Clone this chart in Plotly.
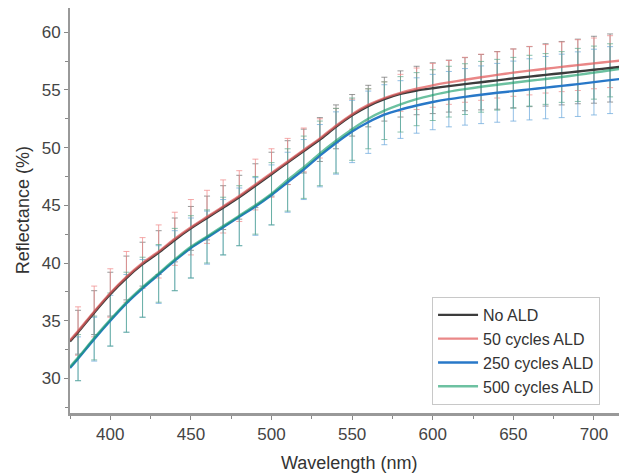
import plotly.graph_objects as go

# Wavelengths (nm): lines start at the axis edge (375), error bars every 10 nm from 380
wavelength = [375] + list(range(380, 721, 10))

no_ald = [33.2, 34.0, 35.7, 37.3, 38.7, 39.9, 40.9, 42.0, 43.0, 43.9, 44.8, 45.7, 46.7, 47.7,
          48.7, 49.7, 50.7, 51.8, 52.8, 53.6, 54.2, 54.65, 54.95, 55.15, 55.33, 55.5, 55.67, 55.83,
          56.0, 56.15, 56.3, 56.45, 56.6, 56.75, 56.9, 57.05]
cyc50 = [33.3, 34.1, 35.8, 37.4, 38.8, 40.0, 41.0, 42.1, 43.1, 44.0, 44.9, 45.8, 46.8, 47.8,
         48.8, 49.8, 50.8, 51.9, 52.9, 53.7, 54.3, 54.75, 55.1, 55.4, 55.65, 55.88, 56.1, 56.3,
         56.5, 56.67, 56.83, 57.0, 57.15, 57.3, 57.45, 57.6]
cyc250 = [30.9, 31.7, 33.4, 35.0, 36.5, 37.8, 39.0, 40.2, 41.3, 42.2, 43.1, 44.0, 44.9, 45.9,
          47.0, 48.1, 49.3, 50.4, 51.4, 52.2, 52.85, 53.3, 53.65, 53.95, 54.2, 54.4, 54.58, 54.75,
          54.9, 55.05, 55.2, 55.35, 55.5, 55.68, 55.85, 56.0]
cyc500 = [31.0, 31.8, 33.5, 35.1, 36.6, 37.9, 39.1, 40.3, 41.4, 42.3, 43.2, 44.1, 45.0, 46.0,
          47.2, 48.3, 49.5, 50.6, 51.6, 52.5, 53.2, 53.75, 54.2, 54.55, 54.85, 55.07, 55.27, 55.45,
          55.62, 55.8, 55.95, 56.12, 56.3, 56.5, 56.7, 56.9]

# Standard deviations at 380..720 nm
err_no_ald = [1.9, 1.9, 1.9, 1.9, 1.9, 1.9, 1.9, 1.9, 1.9, 1.9, 1.9, 1.9, 1.9, 1.9,
              1.9, 1.9, 1.9, 1.8, 1.8, 1.9, 2.0, 2.1, 2.2, 2.25, 2.3, 2.4, 2.5, 2.55,
              2.6, 2.7, 2.75, 2.8, 2.9, 2.95, 3.05]
err_50 = [2.1, 2.2, 2.1, 2.2, 2.2, 2.3, 2.3, 2.4, 2.3, 2.3, 2.2, 2.2, 2.1, 2.0,
          1.9, 1.7, 1.5, 1.3, 1.4, 1.4, 1.6, 1.8, 1.9, 1.9, 1.95, 2.0, 2.0, 2.05,
          2.1, 2.1, 2.15, 2.2, 2.2, 2.25, 2.3]
err_250 = [1.9, 1.9, 2.2, 2.5, 2.5, 2.5, 2.6, 2.6, 2.3, 2.4, 2.5, 2.5, 2.6, 2.6,
           2.6, 2.7, 2.7, 2.7, 2.7, 2.6, 2.5, 2.4, 2.4, 2.4, 2.45, 2.5, 2.55, 2.6,
           2.65, 2.7, 2.75, 2.8, 2.85, 2.9, 3.0]
err_500 = [2.0, 1.9, 2.3, 2.6, 2.6, 2.5, 2.7, 2.7, 2.3, 2.5, 2.6, 2.5, 2.7, 2.7,
           2.7, 2.8, 2.8, 2.7, 2.6, 2.5, 2.4, 2.3, 2.2, 2.2, 2.2, 2.2, 2.2, 2.2,
           2.2, 2.2, 2.2, 2.3, 2.3, 2.3, 2.3]

x_ticks = [400, 450, 500, 550, 600, 650, 700]
y_ticks = [30, 35, 40, 45, 50, 55, 60]

series = [
    ("No ALD", no_ald, err_no_ald, "rgba(60,60,60,1)", "rgba(110,110,110,0.7)", 1.0),
    ("50 cycles ALD", cyc50, err_50, "rgba(226,90,90,1)", "rgba(240,140,140,0.75)", 0.72),
    ("250 cycles ALD", cyc250, err_250, "rgba(40,120,200,1)", "rgba(110,170,220,0.75)", 1.0),
    ("500 cycles ALD", cyc500, err_500, "rgba(30,160,110,1)", "rgba(90,170,140,0.7)", 0.65),
]

fig = go.Figure()

# error bars (behind lines)
for name, ys, errs, lc, ec, op in series:
    fig.add_trace(go.Scatter(
        x=wavelength[1:], y=ys[1:], mode="markers",
        marker=dict(size=1, color="rgba(0,0,0,0)"),
        error_y=dict(type="data", array=errs, visible=True, color=ec, thickness=1, width=3),
        showlegend=False, hoverinfo="skip"))

for name, ys, errs, lc, ec, op in series:
    fig.add_trace(go.Scatter(
        x=wavelength, y=ys, mode="lines", name=name,
        line=dict(color=lc, width=2.4, shape="spline", smoothing=0.6), opacity=op))

font_family = "Liberation Sans, Arial, sans-serif"

# the page body has an 8px margin: figure is sized/offset to compensate
fig.update_layout(
    width=619, height=466,
    margin=dict(l=62, r=0, t=0, b=61, autoexpand=False),
    paper_bgcolor="white", plot_bgcolor="white",
    font=dict(family=font_family, size=17, color="#333"),
    showlegend=True,
    legend=dict(x=0.65, y=0.2865, xanchor="left", yanchor="top",
                bordercolor="#c8c8c8", borderwidth=1, bgcolor="white",
                font=dict(size=16, color="#333"), tracegroupgap=0,
                itemwidth=40),
    xaxis=dict(range=[375, 720.5], tickvals=x_ticks, ticks="outside", ticklen=4,
               tickcolor="#888", showline=True, linecolor="#999", linewidth=3,
               showgrid=False, zeroline=False, automargin=False,
               minor=dict(dtick=25, tick0=375, ticks="outside", ticklen=3, tickcolor="#888"),
               tickfont=dict(size=17, color="#444")),
    yaxis=dict(range=[27, 62.1], tickvals=y_ticks, ticks="outside", ticklen=4,
               tickcolor="#888", showline=True, linecolor="#999", linewidth=2,
               showgrid=False, zeroline=False, automargin=False,
               minor=dict(dtick=2.5, tick0=27.5, ticks="outside", ticklen=3, tickcolor="#888"),
               tickfont=dict(size=17, color="#444")),
    annotations=[
        dict(text="Wavelength (nm)", xref="paper", yref="paper", x=0.5, y=-0.123,
             xanchor="center", yanchor="middle", showarrow=False,
             font=dict(size=18, color="#333")),
        dict(text="Reflectance (%)", xref="paper", yref="paper", x=-0.085, y=0.5,
             xanchor="center", yanchor="middle", showarrow=False, textangle=-90,
             font=dict(size=18, color="#333")),
    ],
)

fig.write_html("out.html")
